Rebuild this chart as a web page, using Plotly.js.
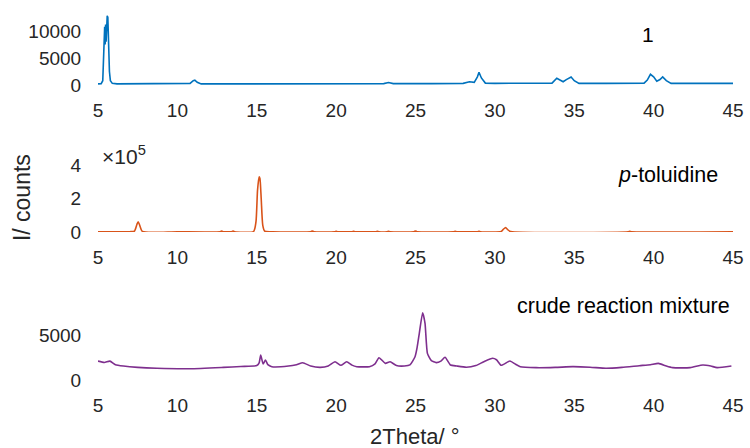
<!DOCTYPE html>
<html>
<head>
<meta charset="utf-8">
<script src="https://cdn.plot.ly/plotly-3.0.1.min.js"></script>
<style>html,body{margin:0;padding:0;background:#fff;}#chart{width:750px;height:448px;}</style>
</head>
<body>
<div id="chart"></div>
<script>
// Sample "1" (blue)
const x1 = [5.0, 5.2, 5.3, 5.36, 5.4, 5.42, 5.45, 5.48, 5.51, 5.54, 5.58, 5.62, 5.66, 5.72, 5.78, 5.9, 6.2, 8.0, 10.0, 10.8, 11.0, 11.1, 11.25, 11.5, 13.0, 15.0, 17.0, 20.0, 23.0, 23.3, 23.6, 26.0, 28.0, 28.4, 28.7, 28.9, 29.0, 29.15, 29.4, 30.0, 32.0, 33.6, 33.9, 34.1, 34.3, 34.5, 34.8, 35.0, 35.3, 37.0, 39.4, 39.6, 39.8, 40.0, 40.2, 40.4, 40.57, 40.8, 41.1, 43.0, 45.0];
const y1 = [200, 250, 800, 6000, 10500, 10800, 7500, 11200, 8000, 12000, 12800, 12500, 7000, 2500, 800, 300, 200, 200, 200, 300, 800, 900, 500, 200, 200, 200, 200, 200, 250, 450, 250, 250, 300, 600, 500, 1500, 2350, 1300, 350, 300, 300, 350, 1240, 900, 600, 1000, 1480, 800, 300, 300, 350, 900, 1980, 1500, 700, 1000, 1480, 800, 300, 300, 300];

// p-toluidine (orange)
const x2 = [5.0, 7.0, 7.3, 7.45, 7.53, 7.62, 7.8, 10.0, 12.7, 12.8, 12.9, 13.4, 13.5, 13.6, 14.8, 14.95, 15.05, 15.15, 15.2, 15.28, 15.38, 15.5, 16.0, 18.4, 18.5, 18.6, 19.9, 20.0, 20.1, 21.0, 21.1, 21.2, 22.5, 22.6, 22.7, 23.2, 23.3, 23.4, 24.9, 25.0, 25.1, 27.4, 27.5, 27.6, 28.9, 29.0, 29.1, 30.4, 30.55, 30.68, 30.8, 31.0, 38.4, 38.5, 38.6, 45.0];
const y2 = [2000, 2000, 6000, 45000, 61000, 42000, 3000, 2000, 2000, 6000, 2000, 2000, 6000, 2000, 3000, 60000, 250000, 330000, 320000, 200000, 40000, 5000, 2000, 2000, 6000, 2000, 2000, 5000, 2000, 2000, 5000, 2000, 2000, 5000, 2000, 2000, 5000, 2000, 2000, 6000, 2000, 2000, 4000, 2000, 2000, 5000, 2000, 3000, 18000, 26000, 15000, 2500, 2000, 4000, 2000, 2000];

// crude reaction mixture (purple)
const x3 = [5.0, 5.4, 5.75, 6.1, 6.6, 7.5, 8.7, 10.8, 12.9, 14.0, 15.0, 15.15, 15.25, 15.4, 15.55, 15.7, 15.95, 17.0, 17.5, 17.9, 18.4, 19.0, 19.5, 19.93, 20.3, 20.66, 21.0, 21.3, 22.1, 22.45, 22.7, 23.1, 23.4, 23.8, 24.3, 24.65, 24.97, 25.1, 25.24, 25.45, 25.6, 25.75, 26.0, 26.3, 26.6, 26.86, 27.2, 27.6, 28.2, 28.8, 29.3, 29.86, 30.1, 30.4, 30.95, 31.3, 31.6, 32.6, 33.8, 34.9, 36.0, 37.0, 38.0, 39.1, 39.8, 40.3, 40.8, 41.2, 42.3, 43.1, 43.6, 44.0, 44.9];
const y3 = [2100, 1950, 2100, 1700, 1550, 1400, 1300, 1250, 1400, 1500, 1600, 1900, 2780, 1780, 2220, 1700, 1480, 1550, 1700, 1920, 1550, 1400, 1550, 2030, 1630, 2030, 1650, 1480, 1480, 1800, 2480, 1850, 2030, 1600, 1550, 1670, 2590, 3600, 5190, 7480, 6300, 2960, 2150, 1930, 2100, 2520, 1670, 1550, 1410, 1600, 2030, 2410, 2250, 1630, 2110, 1750, 1480, 1370, 1400, 1480, 1420, 1300, 1400, 1590, 1700, 1850, 1550, 1370, 1370, 1670, 1550, 1370, 1560];

const xTicks = [5, 10, 15, 20, 25, 30, 35, 40, 45];
const FONT = "Liberation Sans, Arial, sans-serif";
const tickFont = {family: FONT, size: 19, color: '#262626'};

function xax(anchor) {
  return {
    anchor: anchor, range: [5, 45], tickvals: xTicks, ticktext: xTicks.map(String),
    showline: false, zeroline: false, showgrid: false,
    ticks: 'outside', ticklen: 8, tickcolor: 'rgba(0,0,0,0)',
    tickfont: tickFont
  };
}
function yax(domain, range, tv, tt) {
  return {
    domain: domain, range: range, tickvals: tv, ticktext: tt,
    showline: false, zeroline: false, showgrid: false,
    ticks: 'outside', ticklen: 12, tickcolor: 'rgba(0,0,0,0)',
    tickfont: tickFont
  };
}

const traces = [
  {x: x1, y: y1, xaxis: 'x', yaxis: 'y', type: 'scatter', mode: 'lines', line: {color: '#0072BD', width: 1.6}, hoverinfo: 'none'},
  {x: x2, y: y2, xaxis: 'x2', yaxis: 'y2', type: 'scatter', mode: 'lines', line: {color: '#D95319', width: 1.6, shape: 'spline', smoothing: 0.6}, hoverinfo: 'none'},
  {x: x3, y: y3, xaxis: 'x3', yaxis: 'y3', type: 'scatter', mode: 'lines', line: {color: '#7E2F8E', width: 1.6, shape: 'spline', smoothing: 0.5}, hoverinfo: 'none'}
];

function ann(text, x, y, size, extra) {
  return Object.assign({text: text, xref: 'paper', yref: 'paper', x: x, y: y,
    xanchor: 'center', yanchor: 'middle', showarrow: false,
    font: {family: FONT, size: size, color: '#000'}}, extra || {});
}

const layout = {
  width: 750, height: 448,
  margin: {l: 98, r: 17, t: 0, b: 0},
  paper_bgcolor: '#fff', plot_bgcolor: '#fff',
  showlegend: false,
  font: {family: FONT, color: '#262626'},
  xaxis: xax('y'),
  xaxis2: xax('y2'),
  xaxis3: xax('y3'),
  yaxis: yax([0.8103, 0.967], [0, 13000], [0, 5000, 10000], ['0', '5000', '10000']),
  yaxis2: yax([0.4821, 0.6317], [0, 400000], [0, 200000, 400000], ['0', '2', '4']),
  yaxis3: yax([0.1518, 0.3125], [0, 8000], [0, 5000], ['0', '5000']),
  annotations: [
    ann('1', 0.866, 0.922, 21),
    ann('<i>p</i>-toluidine', 0.898, 0.609, 21.5),
    ann('crude reaction mixture', 0.8276, 0.317, 21.5),
    ann('×10<sup>5</sup>', 0.003, 0.654, 21, {xanchor: 'left', font: {family: FONT, size: 21, color: '#262626'}}),
    ann('I/ counts', -0.1197, 0.56, 23, {textangle: -90, font: {family: FONT, size: 23, color: '#262626'}}),
    ann('2Theta/ °', 0.499, 0.0246, 22, {font: {family: FONT, size: 22, color: '#262626'}})
  ]
};

Plotly.newPlot('chart', traces, layout, {displayModeBar: false, staticPlot: true});
</script>
</body>
</html>
